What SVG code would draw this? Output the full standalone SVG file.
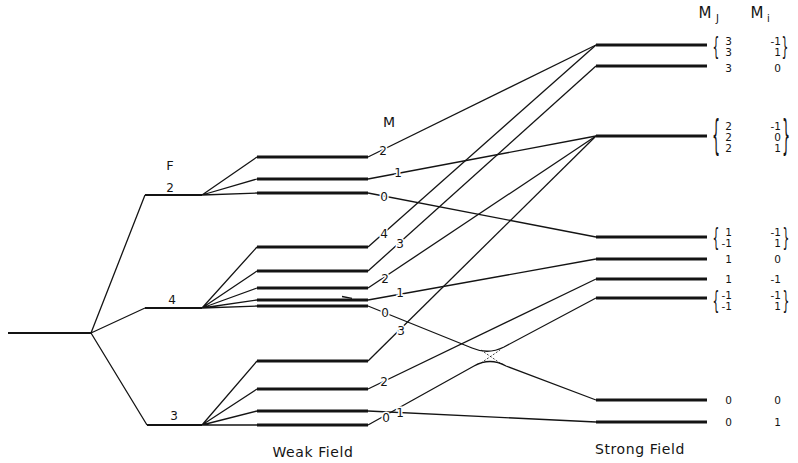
<svg xmlns="http://www.w3.org/2000/svg" width="798" height="463" viewBox="0 0 798 463">
  <style>
    .lvl { stroke: #141414; stroke-width: 3.2; stroke-linecap: butt; fill: none; }
    .flv { stroke: #141414; stroke-width: 2; fill: none; }
    .ln { stroke: #141414; stroke-width: 1.3; fill: none; stroke-linejoin: round; }
    .dash { stroke: #141414; stroke-width: 0.8; stroke-dasharray: 2 1.6; fill: none; }
    text { font-family: "DejaVu Sans", "Liberation Sans", sans-serif; fill: #141414; }
    .lab { font-size: 12px; text-anchor: middle; stroke: #fff; stroke-width: 3; paint-order: stroke; }
    .num { font-size: 12px; text-anchor: middle; }
    .col { font-size: 10.5px; text-anchor: end; }
    .b2 { font-size: 24px; text-anchor: middle; }
    .b3 { font-size: 40px; text-anchor: middle; }
    .cap { font-size: 14px; text-anchor: middle; letter-spacing: 0.6px; }
  </style>
  <rect width="798" height="463" fill="#fff"/>

  <!-- connectors: zero-field split, F fans, weak-to-strong correlation lines -->
  <g id="connectors">
    <path class="ln" d="M91,333 L145,195 M91,333 L145,308 M91,333 L147,425"/>
    <path class="ln" d="M202,195 L257,157 M202,195 L257,179 M202,195 L257,193"/>
    <path class="ln" d="M202,308 L257,247 M202,308 L257,271 M202,308 L257,288 M202,308 L257,300 M202,308 L257,306"/>
    <path class="ln" d="M202,425 L257,361 M202,425 L257,389 M202,425 L257,411 M202,425 L257,425"/>
    <path class="ln" d="M368,157 L596,45"/>
    <path class="ln" d="M368,179 L596,136"/>
    <path class="ln" d="M368,193 L596,237"/>
    <path class="ln" d="M368,247 L596,45"/>
    <path class="ln" d="M368,271 L596,66"/>
    <path class="ln" d="M368,288 L596,136"/>
    <path class="ln" d="M368,300 L596,259"/>
    <path class="ln" d="M368,306 L472,348 Q488,355 504,347 L596,298"/>
    <path class="ln" d="M368,361 L596,136"/>
    <path class="ln" d="M368,389 L596,279"/>
    <path class="ln" d="M368,411 L596,422"/>
    <path class="ln" d="M368,425 L474,366 Q490,357 506,366 L596,400"/>
    <!-- avoided crossing hint -->
    <path class="dash" d="M481,350 L500,363 M481,363 L500,350"/>
    <path class="ln" d="M342,296.5 L352,298.3"/>
  </g>

  <!-- zero-field level -->
  <g id="zero-field"><path class="flv" d="M8,333 L91,333"/></g>

  <!-- hyperfine F levels -->
  <text class="num" x="170" y="170" style="font-size:13px">F</text>
  <g id="f2"><path class="flv" d="M145,195 L202,195"/><text class="num" x="170" y="192">2</text></g>
  <g id="f4"><path class="flv" d="M145,308 L202,308"/><text class="num" x="172" y="304">4</text></g>
  <g id="f3"><path class="flv" d="M147,425 L202,425"/><text class="num" x="174" y="420">3</text></g>

  <!-- weak field sublevels -->
  <text class="num" x="389" y="127" style="font-size:14px">M</text>
  <g id="w-f2-m2"><path class="lvl" d="M257,157 L368,157"/><text class="lab" x="383" y="155">2</text></g>
  <g id="w-f2-m1"><path class="lvl" d="M257,179 L368,179"/><text class="lab" x="398" y="177">1</text></g>
  <g id="w-f2-m0"><path class="lvl" d="M257,193 L368,193"/><text class="lab" x="384" y="201">0</text></g>
  <g id="w-f4-m4"><path class="lvl" d="M257,247 L368,247"/><text class="lab" x="384" y="238">4</text></g>
  <g id="w-f4-m3"><path class="lvl" d="M257,271 L368,271"/><text class="lab" x="400" y="248">3</text></g>
  <g id="w-f4-m2"><path class="lvl" d="M257,288 L368,288"/><text class="lab" x="385" y="283">2</text></g>
  <g id="w-f4-m1"><path class="lvl" d="M257,300 L368,300"/><text class="lab" x="400" y="297">1</text></g>
  <g id="w-f4-m0"><path class="lvl" d="M257,306 L368,306"/><text class="lab" x="385" y="317">0</text></g>
  <g id="w-f3-m3"><path class="lvl" d="M257,361 L368,361"/><text class="lab" x="401" y="335">3</text></g>
  <g id="w-f3-m2"><path class="lvl" d="M257,389 L368,389"/><text class="lab" x="384" y="386">2</text></g>
  <g id="w-f3-m1"><path class="lvl" d="M257,411 L368,411"/><text class="lab" x="400" y="417">1</text></g>
  <g id="w-f3-m0"><path class="lvl" d="M257,425 L368,425"/><text class="lab" x="386" y="422">0</text></g>

  <!-- strong field levels with (M_J, M_I) assignments -->
  <text class="num" x="705" y="18" style="font-size:15px">M</text>
  <text x="716" y="22" style="font-size:10px">J</text>
  <text class="num" x="757" y="18" style="font-size:15px">M</text>
  <text x="767" y="22" style="font-size:10px">i</text>

  <g id="s1"><path class="lvl" d="M596,45 L707,45"/>
    <text class="b2" transform="translate(716,55) scale(0.45,1)">{</text>
    <text class="col" x="732" y="45">3</text><text class="col" x="732" y="56">3</text>
    <text class="col" x="781" y="45">-1</text><text class="col" x="781" y="56">1</text>
    <text class="b2" transform="translate(785,55) scale(0.45,1)">}</text></g>
  <g id="s2"><path class="lvl" d="M596,66 L707,66"/>
    <text class="col" x="732" y="72">3</text><text class="col" x="781" y="72">0</text></g>
  <g id="s3"><path class="lvl" d="M596,136 L707,136"/>
    <text class="b3" transform="translate(716,149) scale(0.32,1)">{</text>
    <text class="col" x="732" y="130">2</text><text class="col" x="732" y="141">2</text><text class="col" x="732" y="152">2</text>
    <text class="col" x="781" y="130">-1</text><text class="col" x="781" y="141">0</text><text class="col" x="781" y="152">1</text>
    <text class="b3" transform="translate(786,149) scale(0.32,1)">}</text></g>
  <g id="s4"><path class="lvl" d="M596,237 L707,237"/>
    <text class="b2" transform="translate(716,246) scale(0.45,1)">{</text>
    <text class="col" x="732" y="236">1</text><text class="col" x="732" y="247">-1</text>
    <text class="col" x="781" y="236">-1</text><text class="col" x="781" y="247">1</text>
    <text class="b2" transform="translate(786,246) scale(0.45,1)">}</text></g>
  <g id="s5"><path class="lvl" d="M596,259 L707,259"/>
    <text class="col" x="732" y="263">1</text><text class="col" x="781" y="263">0</text></g>
  <g id="s6"><path class="lvl" d="M596,279 L707,279"/>
    <text class="col" x="732" y="283">1</text><text class="col" x="781" y="283">-1</text></g>
  <g id="s7"><path class="lvl" d="M596,298 L707,298"/>
    <text class="b2" transform="translate(716,309) scale(0.45,1)">{</text>
    <text class="col" x="732" y="299">-1</text><text class="col" x="732" y="310">-1</text>
    <text class="col" x="781" y="299">-1</text><text class="col" x="781" y="310">1</text>
    <text class="b2" transform="translate(786,309) scale(0.45,1)">}</text></g>
  <g id="s8"><path class="lvl" d="M596,400 L707,400"/>
    <text class="col" x="732" y="404">0</text><text class="col" x="781" y="404">0</text></g>
  <g id="s9"><path class="lvl" d="M596,422 L707,422"/>
    <text class="col" x="732" y="426">0</text><text class="col" x="781" y="426">1</text></g>

  <text class="cap" x="313" y="457">Weak Field</text>
  <text class="cap" x="640" y="454">Strong Field</text>
</svg>
